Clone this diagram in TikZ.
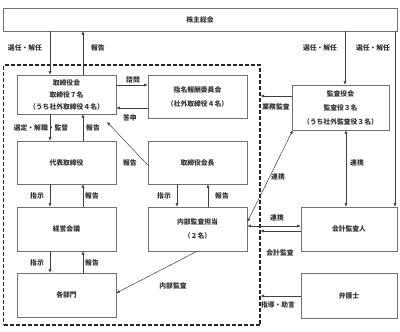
\documentclass[tikz,border=0pt]{standalone}
\usepackage{fontspec}
\setmainfont{Noto Sans CJK JP}
\usetikzlibrary{arrows.meta,calc}
\begin{document}
\begin{tikzpicture}[x=1pt,y=-1pt,
  box/.style={draw=black!55, line width=0.6pt, fill=white, rectangle, inner sep=0pt,
    align=center, font=\fontsize{6.8}{12}\selectfont\bfseries, text=black!80},
  frame/.style={draw=black!85, line width=1.1pt, dash pattern=on 4pt off 2pt, rectangle, inner sep=0pt},
  arr/.style={draw=black!75, line width=0.5pt, -{Latex[length=3.5pt,width=3pt]}},
  darr/.style={draw=black!75, line width=0.5pt, {Latex[length=3.5pt,width=3pt]}-{Latex[length=3.5pt,width=3pt]}},
  lbl/.style={font=\fontsize{6.8}{8}\selectfont\bfseries, inner sep=0pt, text=black!80}]
\useasboundingbox (0,0) rectangle (400,332);
\fill[white] (0,0) rectangle (400,332);

% frame
\node[frame, minimum width=256.5pt, minimum height=260pt] (ctl) at (131.75,195) {};

% boxes
\node[box, minimum width=394pt, minimum height=23pt] (kabu) at (200,19.5) {株主総会};
\node[box, minimum width=99pt, minimum height=39pt] (tb) at (66.5,94.5) {取締役会\\取締役７名\\（うち社外取締役４名）};
\node[box, minimum width=99pt, minimum height=43pt, font=\fontsize{6.8}{14}\selectfont\bfseries] (nom) at (197.5,96.5) {指名報酬委員会\\（社外取締役４名）};
\node[box, minimum width=97pt, minimum height=45pt, font=\fontsize{6.8}{14}\selectfont\bfseries] (kansa) at (340.5,107.5) {監査役会\\監査役３名\\（うち社外監査役３名）};
\node[box, minimum width=99pt, minimum height=43pt] (daihyo) at (66.5,162.5) {代表取締役};
\node[box, minimum width=99pt, minimum height=43pt] (kaicho) at (197.5,162.5) {取締役会長};
\node[box, minimum width=99pt, minimum height=44pt] (keiei) at (66.5,229) {経営会議};
\node[box, minimum width=99pt, minimum height=44pt, font=\fontsize{6.8}{14}\selectfont\bfseries] (naibu) at (197.5,229) {内部監査担当\\（２名）};
\node[box, minimum width=96pt, minimum height=44pt] (kaikei) at (349,229) {会計監査人};
\node[box, minimum width=99pt, minimum height=44pt] (bumon) at (66.5,295) {各部門};
\node[box, minimum width=96pt, minimum height=45pt] (bengo) at (349,295.5) {弁護士};

% helper coordinates
\coordinate (rep) at (107,122);

% arrows from/to 株主総会
\draw[arr] ([xshift=-16.5pt]tb.north |- kabu.south) -- ([xshift=-16.5pt]tb.north);
\draw[arr] ([xshift=16.5pt]tb.north) -- ([xshift=16.5pt]tb.north |- kabu.south);
\draw[arr] ([xshift=4.5pt]kansa.north |- kabu.south) -- ([xshift=4.5pt]kansa.north);
\draw[arr] ([xshift=46pt]kaikei.north |- kabu.south) -- ([xshift=46pt]kaikei.north);

% 取締役会 <-> 指名報酬委員会
\draw[arr] ([yshift=9.5pt]tb.east) -- ([yshift=9.5pt]tb.east -| nom.west);
\draw[arr] ([yshift=-13.5pt]tb.east -| nom.west) -- ([yshift=-13.5pt]tb.east);

% 監査役会 -> frame
\draw[arr] ([yshift=11.5pt]kansa.west) -- ([yshift=11.5pt]kansa.west -| ctl.east);

% 取締役会 <-> 代表取締役
\draw[arr] ([xshift=-16.5pt]tb.south) -- ([xshift=-16.5pt]daihyo.north);
\draw[arr] ([xshift=16.5pt]daihyo.north) -- ([xshift=16.5pt]tb.south);

% 取締役会長 -> 取締役会
\draw[arr] ([yshift=-2.5pt]kaicho.west) -- (rep);

% 代表取締役 <-> 経営会議
\draw[arr] ([xshift=-16.5pt]daihyo.south) -- ([xshift=-16.5pt]keiei.north);
\draw[arr] ([xshift=16.5pt]keiei.north) -- ([xshift=16.5pt]daihyo.south);

% 取締役会長 <-> 内部監査担当
\draw[arr] ([xshift=-20.5pt]kaicho.south) -- ([xshift=-20.5pt]naibu.north);
\draw[arr] ([xshift=10.5pt]naibu.north) -- ([xshift=10.5pt]kaicho.south);

% 経営会議 <-> 各部門
\draw[arr] ([xshift=-16.5pt]keiei.south) -- ([xshift=-16.5pt]bumon.north);
\draw[arr] ([xshift=16.5pt]bumon.north) -- ([xshift=16.5pt]keiei.south);

% 内部監査担当 <-> 監査役会
\draw[darr] ([yshift=7pt]naibu.east) -- ([xshift=1pt]kansa.south west);
% 監査役会 <-> 会計監査人
\draw[darr] ([xshift=5.5pt]kansa.south) -- ([xshift=-3pt]kaikei.north);
% 内部監査担当 <-> 会計監査人
\draw[darr] ([yshift=3pt]naibu.east) -- ([yshift=3pt]kaikei.west);
% 会計監査人 -> frame
\draw[arr] ([yshift=-2pt]kaikei.west) -- ([yshift=-2pt]kaikei.west -| ctl.east);
% 弁護士 -> frame
\draw[arr] ([yshift=-0.5pt]bengo.west) -- ([yshift=-0.5pt]bengo.west -| ctl.east);
% 内部監査担当 -> 各部門
\draw[arr] ([xshift=-0.5pt]naibu.south) -- ([yshift=2pt]bumon.east);

% labels
\node[lbl] (l1) at (25,48) {選任・解任};
\node[lbl] (l2) at (98,48) {報告};
\node[lbl] (l3) at (320,48) {選任・解任};
\node[lbl] (l4) at (373,48) {選任・解任};
\node[lbl] (l5) at (133,80) {諮問};
\node[lbl] (l6) at (130,118) {答申};
\node[lbl] (l7) at (276,107) {業務監査};
\node[lbl] (l8) at (41,128) {選定・解職・監督};
\node[lbl] (l9) at (93,128) {報告};
\node[lbl] (l10) at (130,163) {報告};
\node[lbl] (l11) at (37,196) {指示};
\node[lbl] (l12) at (92,196) {報告};
\node[lbl] (l13) at (164,196) {指示};
\node[lbl] (l14) at (222,196) {報告};
\node[lbl] (l15) at (278,177) {連携};
\node[lbl] (l16) at (357,163) {連携};
\node[lbl] (l17) at (277,218) {連携};
\node[lbl] (l18) at (280,253) {会計監査};
\node[lbl] (l19) at (173,286) {内部監査};
\node[lbl] (l20) at (37,263) {指示};
\node[lbl] (l21) at (92,263) {報告};
\node[lbl] (l22) at (278,305) {指導・助言};
\end{tikzpicture}
\end{document}
